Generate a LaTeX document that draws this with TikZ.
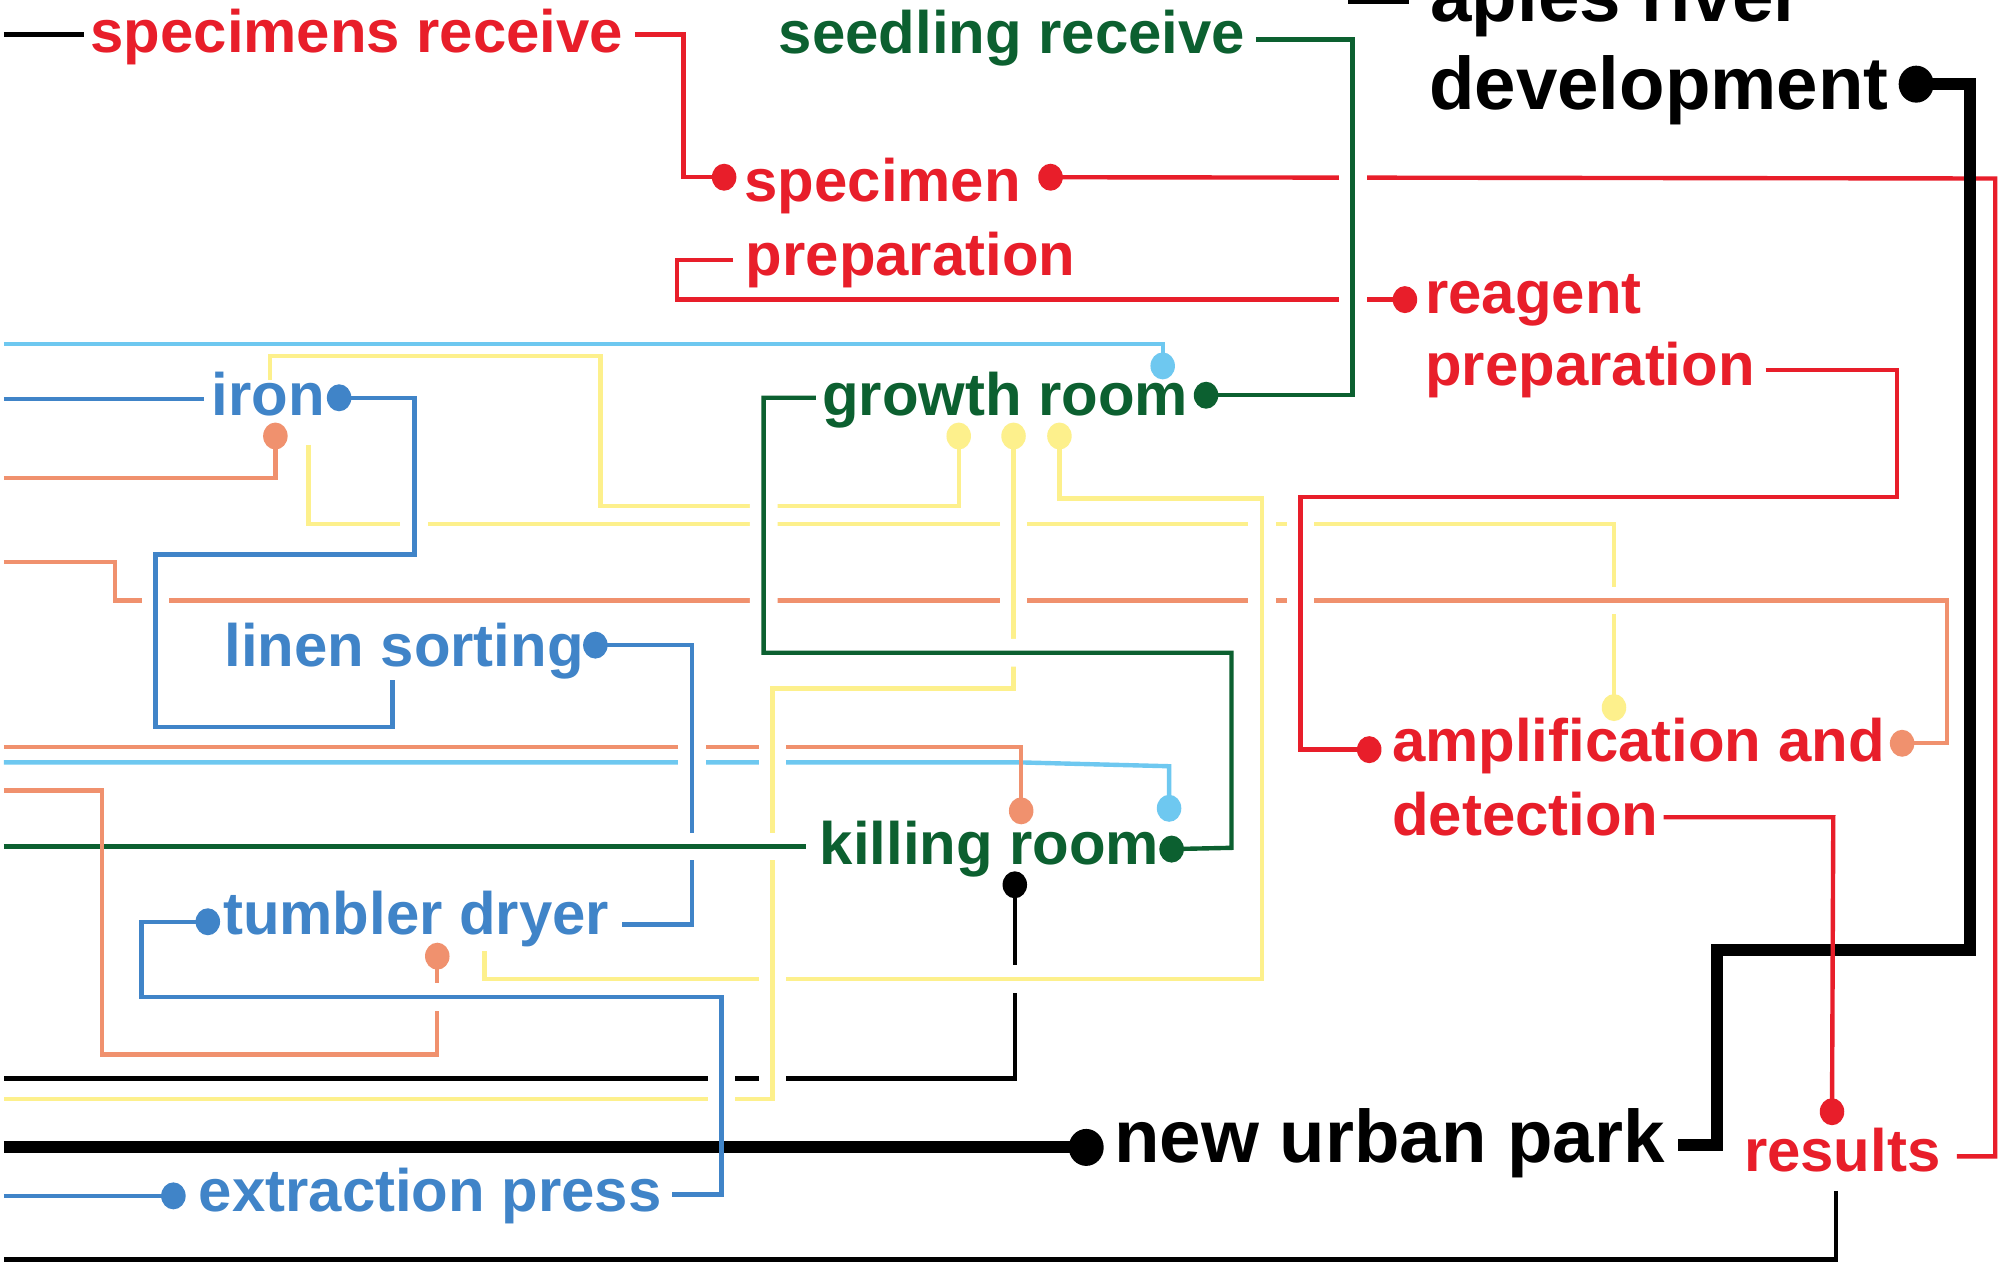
\documentclass[tikz,border=0pt]{standalone}
\usepackage{fontspec}
\setmainfont{Liberation Sans}
\usetikzlibrary{shapes.geometric}
\definecolor{cred}{RGB}{232,30,42}
\definecolor{cgreen}{RGB}{12,96,48}
\definecolor{ccyan}{RGB}{110,200,240}
\definecolor{cblue}{RGB}{64,132,200}
\definecolor{csalmon}{RGB}{240,145,110}
\definecolor{cyellow}{RGB}{253,240,140}
\tikzset{
  ln/.style={line width=1.25pt, line join=miter, draw=#1},
  thickln/.style={line width=3.4pt, line join=miter, draw=black},
  halo/.style={preaction={draw=white, line width=7.9pt}},
  dotn/.style={ellipse, inner sep=0pt, outer sep=0pt, minimum width=0.245cm, minimum height=0.27cm, fill=#1},
  bigdot/.style={ellipse, inner sep=0pt, outer sep=0pt, minimum width=0.35cm, minimum height=0.37cm, fill=black},
  lbl/.style={inner sep=0pt, outer sep=0pt, anchor=base west, text=#1, font=\bfseries\fontsize{17.05}{20}\selectfont},
  biglbl/.style={inner sep=0pt, outer sep=0pt, anchor=base west, text=black, font=\bfseries\fontsize{21.2}{24}\selectfont},
}
\begin{document}
\begin{tikzpicture}[x=0.012749cm, y=-0.012749cm]
\useasboundingbox (0,0) rectangle (1568,991);
\fill[white] (0,0) rectangle (1568,991);
\begin{scope}
\clip (0,0) rectangle (1568,991);

% ---------- named points ----------
% dot positions
\coordinate (pR1) at (568,139);
\coordinate (pR2) at (824,139);
\coordinate (pR3) at (1102,235);
\coordinate (pR4) at (1074,588);
\coordinate (pR5) at (1437,872);
\coordinate (pG1) at (946,310);
\coordinate (pG2) at (919,666);
\coordinate (pC1) at (912,287);
\coordinate (pC2) at (917,634);
\coordinate (pS1) at (216,342);
\coordinate (pS2) at (1492,583);
\coordinate (pS3) at (801,636);
\coordinate (pS4) at (343,750);
\coordinate (pY1) at (1266,555);
\coordinate (pY2) at (752,342);
\coordinate (pY3) at (795,342);
\coordinate (pY4) at (831,342);
\coordinate (pB2) at (266,312);
\coordinate (pB3) at (467,506);
\coordinate (pB4) at (163,723);
\coordinate (pB5) at (136,938);
\coordinate (pK) at (796,694);
\coordinate (pDev) at (1503,66);
\coordinate (pPark) at (852,900);
% free ends
\coordinate (eB1a) at (3,27);      \coordinate (eB1b) at (66,27);
\coordinate (eTopa) at (1057,0);   \coordinate (eTopb) at (1105,0);
\coordinate (eR1) at (498,27);
\coordinate (eR2) at (1535,907);
\coordinate (eR3) at (575,204);
\coordinate (eR4) at (1385,290);
\coordinate (eR5) at (1305,641);
\coordinate (eG1) at (985,31);
\coordinate (eG2) at (640,312);
\coordinate (eG3a) at (3,664);     \coordinate (eG3b) at (632,664);
\coordinate (eC1) at (3,270);
\coordinate (eC2) at (3,598);
\coordinate (eS1) at (3,375);
\coordinate (eS2) at (3,441);
\coordinate (eS3) at (3,586);
\coordinate (eS4) at (3,620);
\coordinate (eY1) at (242,349);
\coordinate (eY2) at (212,298);
\coordinate (eY3) at (3,862);
\coordinate (eY4) at (380,746);
\coordinate (eMB1a) at (3,313);    \coordinate (eMB1b) at (160,313);
\coordinate (eMB2) at (308,533);
\coordinate (eMB3) at (488,725);
\coordinate (eMB4) at (527,937);
\coordinate (eMB5) at (3,938);
\coordinate (eK) at (3,846);
\coordinate (eBot1) at (1440,934); \coordinate (eBot2) at (3,988);
\coordinate (eParkL) at (3,900);
\coordinate (eParkR) at (1316,898);

% ---------- lower layer connectors ----------
\draw[ln=black] (eB1a) -- (eB1b);
\draw[line width=2.3pt] (eTopa) -- (eTopb);
\draw[ln=cred] (eR1) -| (536,139) -- (pR1);
\draw[ln=cred] (pR2) -- (1565,140) |- (eR2);
\draw[ln=cred] (eR3) -- (531,204) -- (531,235) -- (pR3);
\draw[ln=cyellow] (pY2) |- (471,397) |- (212,279) -- (eY2);
\draw[ln=cyellow] (eY1) |- (1266,411) -- (pY1);
\draw[ln=ccyan] (eC1) -| (pC1);
\draw[ln=ccyan] (eC2) -- (800,598) -- (917,601) -- (pC2);
\draw[ln=csalmon] (eS3) -| (pS3);
\draw[ln=csalmon] (eS1) -| (pS1);
\draw[ln=black] (pK) -- (796,846) -- (eK);
\draw[ln=black] (eBot1) |- (eBot2);
\draw[thickln] (eParkL) -- (pPark);

% ---------- crossing-over connectors ----------
\draw[ln=csalmon, halo] (eS2) -- (90,441) -- (90,471) -- (1527,471) -- (1527,583) -- (pS2);
\draw[ln=cyellow, halo] (pY4) -- (831,391) -- (990,391) -- (990,768) -- (380,768) -- (eY4);
\draw[ln=cyellow, halo] (pY3) -- (795,540) -- (606,540) -- (606,862) -- (eY3);
\draw[ln=cred, halo] (eR4) -- (1488,290) -- (1488,390) -- (1020,390) -- (1020,588) -- (pR4);
\draw[ln=cgreen, halo] (eG1) -- (1061,31) -- (1061,310) -- (pG1);
\draw[ln=cgreen, halo] (eG2) -- (599,312) -- (599,512) -- (966,512) -- (966,665) -- (pG2);
\draw[ln=cblue, halo] (pB3) -- (543,506) -- (543,725) -- (eMB3);
\draw[ln=cgreen, halo] (eG3a) -- (eG3b);
\draw[ln=csalmon] (eS4) -- (80,620) -- (80,827) -- (343,827) -- (pS4);
\draw[ln=cblue, halo] (pB2) -- (325,312) -- (325,435) -- (122,435) -- (122,570) -- (308,570) -- (eMB2);
\draw[ln=cblue, halo] (pB4) -- (111,723) -- (111,782) -- (566,782) -- (566,884);
\draw[ln=cblue] (566,880) -- (566,937) -- (eMB4);
\draw[ln=cblue] (eMB1a) -- (eMB1b);
\draw[ln=cblue] (eMB5) -- (pB5);
\draw[thickln] (pDev) -- (1545,66) -- (1545,745) -- (1347,745) -- (1347,898) -- (eParkR);
\draw[ln=cred] (eR5) -- (1438,641) -- (pR5);

% ---------- dots ----------
\node[dotn=cred] (dR1) at (pR1) {};
\node[dotn=cred] (dR2) at (pR2) {};
\node[dotn=cred] (dR3) at (pR3) {};
\node[dotn=cred] (dR4) at (pR4) {};
\node[dotn=cred] (dR5) at (pR5) {};
\node[dotn=cgreen] (dG1) at (pG1) {};
\node[dotn=cgreen] (dG2) at (pG2) {};
\node[dotn=ccyan] (dC1) at (pC1) {};
\node[dotn=ccyan] (dC2) at (pC2) {};
\node[dotn=csalmon] (dS1) at (pS1) {};
\node[dotn=csalmon] (dS2) at (pS2) {};
\node[dotn=csalmon] (dS3) at (pS3) {};
\node[dotn=csalmon] (dS4) at (pS4) {};
\node[dotn=cyellow] (dY1) at (pY1) {};
\node[dotn=cyellow] (dY2) at (pY2) {};
\node[dotn=cyellow] (dY3) at (pY3) {};
\node[dotn=cyellow] (dY4) at (pY4) {};
\node[dotn=cblue] (dB2) at (pB2) {};
\node[dotn=cblue] (dB3) at (pB3) {};
\node[dotn=cblue] (dB4) at (pB4) {};
\node[dotn=cblue] (dB5) at (pB5) {};
\node[dotn=black] (dK) at (pK) {};
\node[bigdot] (dDev) at (pDev) {};
\node[bigdot] (dPark) at (pPark) {};

% ---------- labels ----------
\node[lbl=cred] (specrec) at (71,41) {specimens receive};
\node[lbl=cgreen] (seedrec) at (611,42) {seedling receive};
\node[biglbl] (apies) at (1122,17) {apies river};
\node[biglbl] (devel) at (1121,86) {development};
\node[lbl=cred] (specimen) at (584,158) {specimen};
\node[lbl=cred] (specprep) at (585,216) {preparation};
\node[lbl=cred] (reagent) at (1118,246) {reagent};
\node[lbl=cred] (reagprep) at (1118,302) {preparation};
\node[lbl=cblue] (iron) at (166,326) {iron};
\node[lbl=cgreen] (growth) at (645,326) {growth room};
\node[lbl=cblue] (linen) at (176,523) {linen sorting};
\node[lbl=cred] (amplif) at (1092,597) {amplification and};
\node[lbl=cred] (detect) at (1092,655) {detection};
\node[lbl=cgreen] (killing) at (643,678) {killing room};
\node[lbl=cblue] (tumbler) at (175,733) {tumbler dryer};
\node[biglbl] (park) at (874,912) {new urban park};
\node[lbl=cred] (results) at (1368,919) {results};
\node[lbl=cblue] (extract) at (156,950) {extraction press};
\end{scope}
\end{tikzpicture}
\end{document}
